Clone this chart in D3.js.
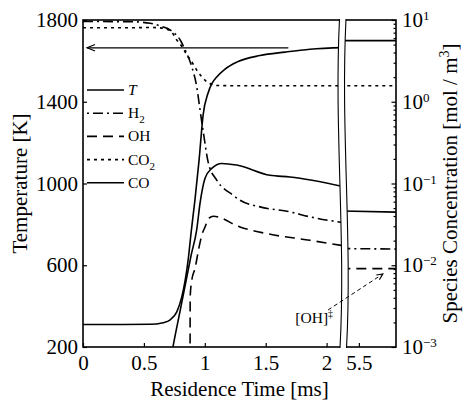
<!DOCTYPE html>
<html>
<head>
<meta charset="utf-8">
<script src="https://cdnjs.cloudflare.com/ajax/libs/d3/7.8.5/d3.min.js"></script>
<style>
  body { margin: 0; background: #fff; }
  svg { display: block; }
  text { font-family: "Liberation Serif", "Times New Roman", serif; }
</style>
</head>
<body>
<div id="wrapper"></div>
<script>
// --- early part of the run, left of the axis break (time in ms) ---
const tTime = [0, 0.552, 0.658, 0.716, 0.770, 0.811, 0.839, 0.866, 0.888, 0.919, 0.953, 0.986, 1.027, 1.060, 1.098, 1.166, 1.262, 1.453, 1.659, 1.864, 2.15]
const temperature = [310, 311, 319, 333, 372, 445, 527, 639, 762, 919, 1114, 1335, 1443, 1491, 1521, 1560, 1594, 1626, 1643, 1657, 1665]

const h2Time = [0, 0.388, 0.552, 0.634, 0.716, 0.798, 0.839, 0.893, 0.934, 0.961, 0.989, 1.030, 1.098, 1.234, 1.289, 1.453, 1.699, 1.864, 2.15]
const h2Conc = [9.59, 9.53, 9.11, 8.45, 7.55, 5.69, 4.29, 2.68, 1.52, 0.791, 0.413, 0.176, 0.110, 0.0716, 0.0625, 0.0518, 0.0450, 0.0391, 0.0330]

const ohTime = [0.879, 0.880, 0.893, 0.920, 0.948, 0.975, 1.002, 1.035, 1.070, 1.289, 1.508, 1.863, 2.15]
const ohConc = [0.0007, 0.0041, 0.00655, 0.00918, 0.0153, 0.0233, 0.0294, 0.0377, 0.0398, 0.0294, 0.0244, 0.0202, 0.0172]

const co2Time = [0, 0.388, 0.552, 0.634, 0.716, 0.770, 0.822, 0.852, 0.880, 0.934, 1.016, 1.098, 1.3, 2.15]
const co2Conc = [8.05, 8.05, 8.09, 8.0, 7.4, 5.69, 4.50, 3.72, 3.3, 2.44, 1.76, 1.58, 1.57, 1.57]

const coTime = [0.72, 0.738, 0.798, 0.847, 0.888, 0.933, 0.961, 1.002, 1.057, 1.139, 1.262, 1.535, 1.699, 2.15]
const coConc = [0.0007, 0.00099, 0.00281, 0.00655, 0.0133, 0.0269, 0.0574, 0.116, 0.153, 0.176, 0.168, 0.126, 0.120, 0.091]

// --- late part, right of the break ---
const lateTime = [5.35, 5.8]
const tLate = [1699, 1699]
const h2Late = [0.0160, 0.0158]
const ohLate = [0.0091, 0.0091]
const co2Late = [1.57, 1.57]
const coLate = [0.0462, 0.0446]

// ticks
const tempTicks = [200, 600, 1000, 1400, 1800]
const earlyTicks = [0, 0.5, 1, 1.5, 2]
const lateTicks = [5.5]
const concTicks = [1e-3, 1e-2, 1e-1, 1, 10]

// annotations
const finalTemp = 1664
const arrowTimes = [1.686, 0.033]
const ohNote = { text: "[OH]", mark: "\u2021", time: 2.053, conc: 0.00197 }
const ohArrowStart = [2.012, 0.00284]
const ohArrowEnd = [5.694, 0.00782]

const legendNames = ["T", "H", "OH", "CO", "CO"]
const legendSubs = ["", "2", "", "2", ""]
const legendDash = ["none", "2,4,10,4", "10,6", "3,4", "none"]

const dimensions = {
  width: 465,
  height: 401,
  margin: { top: 20, right: 69, bottom: 54, left: 83 }
}
dimensions.boundedWidth = dimensions.width - dimensions.margin.left - dimensions.margin.right
dimensions.boundedHeight = dimensions.height - dimensions.margin.top - dimensions.margin.bottom

const cut = 260 // x where the two halves of the time axis meet (inside the break band)
const fontSize = 21

const xEarly = d3.scaleLinear().domain([0, 2.11]).range([0, 257])
const xLate = d3.scaleLinear().domain([5.4, 5.8]).range([263.5, dimensions.boundedWidth])
const yT = d3.scaleLinear().domain([200, 1800]).range([dimensions.boundedHeight, 0])
const yC = d3.scaleLog().domain([1e-3, 10]).range([dimensions.boundedHeight, 0])

const svg = d3.select("#wrapper").append("svg")
  .attr("width", dimensions.width)
  .attr("height", dimensions.height)

const defs = svg.append("defs")
defs.append("clipPath").attr("id", "clipEarly")
  .append("rect").attr("x", 0).attr("y", 0).attr("width", cut).attr("height", dimensions.boundedHeight)
defs.append("clipPath").attr("id", "clipLate")
  .append("rect").attr("x", cut).attr("y", 0).attr("width", dimensions.boundedWidth - cut).attr("height", dimensions.boundedHeight)

const bounds = svg.append("g")
  .attr("transform", `translate(${dimensions.margin.left}, ${dimensions.margin.top})`)

const series = [
  { early: [tTime, temperature], late: [lateTime, tLate], y: yT, dash: "none" },
  { early: [h2Time, h2Conc], late: [lateTime, h2Late], y: yC, dash: "10,4,2,4" },
  { early: [ohTime, ohConc], late: [lateTime, ohLate], y: yC, dash: "10,6" },
  { early: [co2Time, co2Conc], late: [lateTime, co2Late], y: yC, dash: "3,4" },
  { early: [coTime, coConc], late: [lateTime, coLate], y: yC, dash: "none" }
]

const earlyG = bounds.append("g").attr("clip-path", "url(#clipEarly)")
const lateG = bounds.append("g").attr("clip-path", "url(#clipLate)")

series.forEach(s => {
  const early = d3.zip(s.early[0], s.early[1])
  const late = d3.zip(s.late[0], s.late[1])
  const lineEarly = d3.line().x(d => xEarly(d[0])).y(d => s.y(d[1])).curve(d3.curveMonotoneX)
  const lineLate = d3.line().x(d => xLate(d[0])).y(d => s.y(d[1]))
  earlyG.append("path").attr("d", lineEarly(early))
    .attr("fill", "none").attr("stroke", "black").attr("stroke-width", 1.6)
    .attr("stroke-dasharray", s.dash)
  lateG.append("path").attr("d", lineLate(late))
    .attr("fill", "none").attr("stroke", "black").attr("stroke-width", 1.6)
    .attr("stroke-dasharray", s.dash)
})

// frame
bounds.append("rect")
  .attr("width", dimensions.boundedWidth).attr("height", dimensions.boundedHeight)
  .attr("fill", "none").attr("stroke", "black").attr("stroke-width", 1.6)

// axis break band
const bx = 256.5, off = 6.5, H = dimensions.boundedHeight
const leftCurve = `M${bx},-1 C${bx - 5.5},110 ${bx + 6.5},220 ${bx + 0.5},${H + 1}`
const rightBack = `L${bx + 0.5 + off},${H + 1} C${bx + 6.5 + off},220 ${bx - 5.5 + off},110 ${bx + off},-1 Z`
bounds.append("path").attr("d", leftCurve + rightBack).attr("fill", "white").attr("stroke", "none")
bounds.append("path").attr("d", leftCurve).attr("fill", "none").attr("stroke", "black").attr("stroke-width", 1.1)
bounds.append("path")
  .attr("d", `M${bx + off},-1 C${bx - 5.5 + off},110 ${bx + 6.5 + off},220 ${bx + 0.5 + off},${H + 1}`)
  .attr("fill", "none").attr("stroke", "black").attr("stroke-width", 1.1)

// axes
const styleAxis = g => {
  g.attr("font-size", fontSize)
  g.select(".domain").remove()
  g.selectAll(".tick line").attr("stroke-width", 1.2)
  g.selectAll(".tick text").attr("fill", "black")
}

bounds.append("g")
  .call(d3.axisLeft(yT).tickValues(tempTicks).tickSize(-4).tickPadding(5).tickFormat(d3.format("d")))
  .call(styleAxis)

bounds.append("g").attr("transform", `translate(0, ${dimensions.boundedHeight})`)
  .call(d3.axisBottom(xEarly).tickValues(earlyTicks).tickSize(-4).tickPadding(8).tickFormat(d => String(d)))
  .call(styleAxis)

bounds.append("g").attr("transform", `translate(0, ${dimensions.boundedHeight})`)
  .call(d3.axisBottom(xLate).tickValues(lateTicks).tickSize(-4).tickPadding(8).tickFormat(d => String(d)))
  .call(styleAxis)

const minorTicks = []
d3.range(-3, 1).forEach(k => d3.range(2, 10).forEach(m => minorTicks.push(m * Math.pow(10, k))))

bounds.append("g").attr("transform", `translate(${dimensions.boundedWidth}, 0)`)
  .call(d3.axisRight(yC).tickValues(minorTicks).tickSize(-2.5).tickFormat(""))
  .call(styleAxis)

bounds.append("g").attr("transform", `translate(${dimensions.boundedWidth}, 0)`)
  .call(d3.axisRight(yC).tickValues(concTicks).tickSize(-4.5).tickPadding(6).tickFormat(""))
  .call(styleAxis)
  .call(g => g.selectAll(".tick text").each(function (d) {
    const e = Math.round(Math.log10(d))
    const t = d3.select(this).text("10")
    t.append("tspan").attr("dy", -7).attr("font-size", 13).text(e < 0 ? "\u2212" + (-e) : String(e))
  }))

// axis titles
svg.append("text")
  .attr("transform", `translate(27, ${dimensions.margin.top + dimensions.boundedHeight / 2}) rotate(-90)`)
  .attr("text-anchor", "middle").attr("font-size", fontSize)
  .text("Temperature [K]")

const rightTitle = svg.append("text")
  .attr("transform", `translate(457, ${dimensions.margin.top + dimensions.boundedHeight / 2}) rotate(-90)`)
  .attr("text-anchor", "middle").attr("font-size", fontSize)
rightTitle.append("tspan").text("Species Concentration [mol / m")
rightTitle.append("tspan").attr("dy", -8).attr("font-size", 14).text("3")
rightTitle.append("tspan").attr("dy", 8).text("]")

svg.append("text")
  .attr("x", dimensions.margin.left + dimensions.boundedWidth / 2)
  .attr("y", 396)
  .attr("text-anchor", "middle").attr("font-size", fontSize)
  .text("Residence Time [ms]")

// open arrow head drawn at the end of a segment
const arrowHead = (g, x1, y1, x2, y2, len, half) => {
  const a = Math.atan2(y2 - y1, x2 - x1)
  const p = s => [x2 - len * Math.cos(a) + s * half * Math.sin(a), y2 - len * Math.sin(a) - s * half * Math.cos(a)]
  g.append("path").attr("d", d3.line()([p(1), [x2, y2], p(-1)]))
    .attr("fill", "none").attr("stroke", "black").attr("stroke-width", 1.1)
}

// arrow pointing at the temperature axis
const ax1 = xEarly(arrowTimes[0]), ax2 = xEarly(arrowTimes[1]), ay = yT(finalTemp)
bounds.append("line")
  .attr("x1", ax1).attr("x2", ax2).attr("y1", ay).attr("y2", ay)
  .attr("stroke", "black").attr("stroke-width", 1.3)
arrowHead(bounds, ax1, ay, ax2, ay, 8, 3.2)

// [OH] note
const note = bounds.append("text")
  .attr("x", xEarly(ohNote.time)).attr("y", yC(ohNote.conc))
  .attr("text-anchor", "end").attr("font-size", 15.5)
note.append("tspan").text(ohNote.text)
note.append("tspan").attr("dy", -6).attr("font-size", 10).text(ohNote.mark)

const ox1 = xEarly(ohArrowStart[0]), oy1 = yC(ohArrowStart[1])
const ox2 = xLate(ohArrowEnd[0]), oy2 = yC(ohArrowEnd[1])
bounds.append("line")
  .attr("x1", ox1).attr("y1", oy1).attr("x2", ox2).attr("y2", oy2)
  .attr("stroke", "black").attr("stroke-width", 1).attr("stroke-dasharray", "4,3")
arrowHead(bounds, ox1, oy1, ox2, oy2, 6, 2.8)

// legend
const legend = svg.append("g").attr("transform", "translate(87, 90)")
legendNames.forEach((name, i) => {
  const row = legend.append("g").attr("transform", `translate(0, ${i * 23.2})`)
  row.append("line").attr("x1", 0).attr("x2", 37)
    .attr("stroke", "black").attr("stroke-width", 1.6)
    .attr("stroke-dasharray", legendDash[i])
  const label = row.append("text").attr("x", 41).attr("dy", 5).attr("font-size", 15.5)
  label.append("tspan").attr("font-style", name === "T" ? "italic" : "normal").text(name)
  if (legendSubs[i]) label.append("tspan").attr("dy", 5).attr("font-size", 11).text(legendSubs[i])
})
</script>
</body>
</html>
